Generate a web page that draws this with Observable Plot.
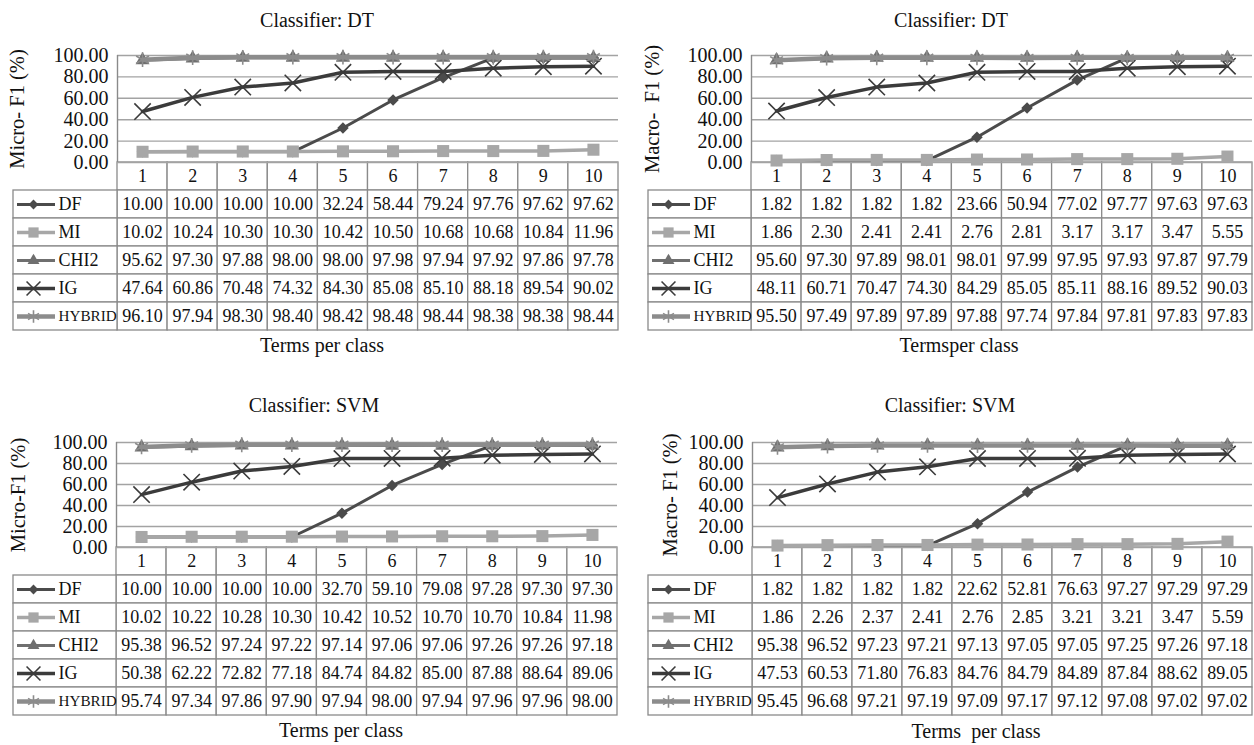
<!DOCTYPE html>
<html>
<head>
<meta charset="utf-8">
<script src="https://cdn.jsdelivr.net/npm/d3@7"></script>
<script src="https://cdn.jsdelivr.net/npm/@observablehq/plot@0.6"></script>
<style>
  html, body { margin: 0; padding: 0; background: #fff; }
  #root { position: relative; width: 1254px; height: 745px; background: #fff; font-family: "Liberation Serif", "Times New Roman", serif; color: #111; overflow: hidden; }
  .lbl { position: absolute; width: 400px; text-align: center; font-size: 20px; line-height: 24px; white-space: pre; }
</style>
</head>
<body>
<div id="root"></div>
<script>
// ---------- data ----------
const terms = [1, 2, 3, 4, 5, 6, 7, 8, 9, 10];
const seriesNames = ["DF", "MI", "CHI2", "IG", "HYBRID"];
const yTicks = [0, 20, 40, 60, 80, 100];

// Classifier DT, Micro-F1
const dtMicroDF     = [10.00, 10.00, 10.00, 10.00, 32.24, 58.44, 79.24, 97.76, 97.62, 97.62];
const dtMicroMI     = [10.02, 10.24, 10.30, 10.30, 10.42, 10.50, 10.68, 10.68, 10.84, 11.96];
const dtMicroCHI2   = [95.62, 97.30, 97.88, 98.00, 98.00, 97.98, 97.94, 97.92, 97.86, 97.78];
const dtMicroIG     = [47.64, 60.86, 70.48, 74.32, 84.30, 85.08, 85.10, 88.18, 89.54, 90.02];
const dtMicroHYBRID = [96.10, 97.94, 98.30, 98.40, 98.42, 98.48, 98.44, 98.38, 98.38, 98.44];

// Classifier DT, Macro-F1
const dtMacroDF     = [1.82, 1.82, 1.82, 1.82, 23.66, 50.94, 77.02, 97.77, 97.63, 97.63];
const dtMacroMI     = [1.86, 2.30, 2.41, 2.41, 2.76, 2.81, 3.17, 3.17, 3.47, 5.55];
const dtMacroCHI2   = [95.60, 97.30, 97.89, 98.01, 98.01, 97.99, 97.95, 97.93, 97.87, 97.79];
const dtMacroIG     = [48.11, 60.71, 70.47, 74.30, 84.29, 85.05, 85.11, 88.16, 89.52, 90.03];
const dtMacroHYBRID = [95.50, 97.49, 97.89, 97.89, 97.88, 97.74, 97.84, 97.81, 97.83, 97.83];

// Classifier SVM, Micro-F1
const svmMicroDF     = [10.00, 10.00, 10.00, 10.00, 32.70, 59.10, 79.08, 97.28, 97.30, 97.30];
const svmMicroMI     = [10.02, 10.22, 10.28, 10.30, 10.42, 10.52, 10.70, 10.70, 10.84, 11.98];
const svmMicroCHI2   = [95.38, 96.52, 97.24, 97.22, 97.14, 97.06, 97.06, 97.26, 97.26, 97.18];
const svmMicroIG     = [50.38, 62.22, 72.82, 77.18, 84.74, 84.82, 85.00, 87.88, 88.64, 89.06];
const svmMicroHYBRID = [95.74, 97.34, 97.86, 97.90, 97.94, 98.00, 97.94, 97.96, 97.96, 98.00];

// Classifier SVM, Macro-F1
const svmMacroDF     = [1.82, 1.82, 1.82, 1.82, 22.62, 52.81, 76.63, 97.27, 97.29, 97.29];
const svmMacroMI     = [1.86, 2.26, 2.37, 2.41, 2.76, 2.85, 3.21, 3.21, 3.47, 5.59];
const svmMacroCHI2   = [95.38, 96.52, 97.23, 97.21, 97.13, 97.05, 97.05, 97.25, 97.26, 97.18];
const svmMacroIG     = [47.53, 60.53, 71.80, 76.83, 84.76, 84.79, 84.89, 87.84, 88.62, 89.05];
const svmMacroHYBRID = [95.45, 96.68, 97.21, 97.19, 97.09, 97.17, 97.12, 97.08, 97.02, 97.02];

// ---------- styles ----------
const seriesStyle = {
  DF:     {color: "#4b4b4b", width: 3,   symbol: "diamond2", r: 5.2, filled: true},
  MI:     {color: "#a7a7a7", width: 3.5, symbol: "square",   r: 6.8, filled: true},
  CHI2:   {color: "#6f6f6f", width: 3,   symbol: "triangle", r: 5.2, filled: true},
  IG:     {color: "#3b3b3b", width: 3.5, symbol: "times",    r: 7.5, filled: false, sw: 1.6},
  HYBRID: {color: "#8c8c8c", width: 4.5, symbol: "asterisk", r: 7,   filled: false, sw: 1.6}
};
const gridColor = "#a3a3a3";
const borderColor = "#8a8a8a";
const textColor = "#111";

const panels = [
  {title: "Classifier: DT", ylab: "Micro- F1 (%)", xlab: "Terms per class",
   values: {DF: dtMicroDF, MI: dtMicroMI, CHI2: dtMicroCHI2, IG: dtMicroIG, HYBRID: dtMicroHYBRID},
   left: 0, plotLeft: 117, plotRight: 618, tableLeft: 13, y100: 55, y0: 162, bottom: 330,
   titleX: 317, titleY: 20, xlabX: 322, xlabY: 345, ylabDx: -100},
  {title: "Classifier: DT", ylab: "Macro-\u00a0 F1 (%)", xlab: "Termsper class",
   values: {DF: dtMacroDF, MI: dtMacroMI, CHI2: dtMacroCHI2, IG: dtMacroIG, HYBRID: dtMacroHYBRID},
   left: 627, plotLeft: 751, plotRight: 1252, tableLeft: 648, y100: 55, y0: 162, bottom: 330,
   titleX: 951, titleY: 20, xlabX: 959, xlabY: 345, ylabDx: -99},
  {title: "Classifier: SVM", ylab: "Micro-F1 (%)", xlab: "Terms per class",
   values: {DF: svmMicroDF, MI: svmMicroMI, CHI2: svmMicroCHI2, IG: svmMicroIG, HYBRID: svmMicroHYBRID},
   left: 0, plotLeft: 116, plotRight: 617, tableLeft: 13, y100: 442, y0: 547, bottom: 715,
   titleX: 314, titleY: 405, xlabX: 341, xlabY: 730, ylabDx: -98},
  {title: "Classifier:\u00a0SVM", ylab: "Macro- F1 (%)", xlab: "Terms\u00a0 per class",
   values: {DF: svmMacroDF, MI: svmMacroMI, CHI2: svmMacroCHI2, IG: svmMacroIG, HYBRID: svmMacroHYBRID},
   left: 627, plotLeft: 752, plotRight: 1252, tableLeft: 648, y100: 442, y0: 547, bottom: 715,
   titleX: 950, titleY: 405, xlabX: 976, xlabY: 731, ylabDx: -82}
];

const root = document.getElementById("root");
const baseStyle = {fontFamily: "'Liberation Serif', 'Times New Roman', serif", fontSize: "20px", color: textColor, background: "transparent", overflow: "visible"};

function addLabel(text, cx, cy) {
  const d = document.createElement("div");
  d.className = "lbl";
  d.textContent = text;
  d.style.left = (cx - 200) + "px";
  d.style.top = (cy - 12) + "px";
  root.appendChild(d);
}

function place(el, left, top) {
  el.style.position = "absolute";
  el.style.left = left + "px";
  el.style.top = top + "px";
  root.appendChild(el);
}

function markerOpts(st) {
  return st.filled
    ? {symbol: st.symbol, r: st.r, fill: st.color, stroke: "none"}
    : {symbol: st.symbol, r: st.r, fill: "none", stroke: st.color, strokeWidth: st.sw};
}

function build(p) {
  const W = 627;
  const mL = p.plotLeft - p.left;
  const mR = p.left + W - p.plotRight;
  const xDomain = [d3.min(terms) - 0.5, d3.max(terms) + 0.5];
  const rows = [];
  seriesNames.forEach(s => p.values[s].forEach((v, i) => rows.push({s, k: terms[i], v})));

  // ----- table -----
  const cellRows = ["header", ...seriesNames];
  const cells = [];
  cellRows.forEach(r => terms.forEach(k => cells.push({r, k})));
  const legW = p.plotLeft - p.tableLeft;
  const tMarks = [
    Plot.barX(cells, {x1: d => d.k - 0.5, x2: d => d.k + 0.5, y: "r", fill: "white", stroke: borderColor, strokeWidth: 1.3}),
    Plot.barX(seriesNames, {x1: () => xDomain[0], x2: () => xDomain[0], y: d => d, insetLeft: -legW, fill: "white", stroke: borderColor, strokeWidth: 1.3}),
    Plot.text(terms, {x: d => d, y: () => "header", text: d => String(d), fontSize: 18, fill: textColor}),
    Plot.text(rows, {x: "k", y: "s", text: d => d.v.toFixed(2), fontSize: 18, fill: textColor})
  ];
  seriesNames.forEach(s => {
    const st = seriesStyle[s];
    tMarks.push(Plot.ruleY([s], {y: d => d, x1: () => xDomain[0], x2: () => xDomain[0], insetLeft: -(legW - 4), insetRight: legW - 42, stroke: st.color, strokeWidth: st.width}));
    tMarks.push(Plot.dot([s], {y: d => d, frameAnchor: "left", dx: -legW + 20, ...markerOpts(st), r: st.r * 0.85}));
    tMarks.push(Plot.text([s], {y: d => d, text: d => d, frameAnchor: "left", dx: -legW + 45, textAnchor: "start", fontSize: s === "HYBRID" ? 15.2 : 18, fill: textColor}));
  });
  const table = Plot.plot({
    width: W, height: (p.bottom - p.y0) + 2,
    marginLeft: mL, marginRight: mR, marginTop: 1, marginBottom: 1,
    x: {domain: xDomain, axis: null},
    y: {type: "band", domain: cellRows, padding: 0, axis: null},
    style: baseStyle,
    marks: tMarks
  });
  place(table, p.left, p.y0 - 1);

  // ----- chart -----
  const cMarks = [
    Plot.ruleY(yTicks, {stroke: gridColor, strokeWidth: 1.4}),
    Plot.ruleX(xDomain.slice(0, 1), {stroke: borderColor, strokeWidth: 1.4})
  ];
  seriesNames.forEach(s => {
    const st = seriesStyle[s];
    const data = rows.filter(r => r.s === s);
    cMarks.push(Plot.line(data, {x: "k", y: "v", stroke: st.color, strokeWidth: st.width}));
    cMarks.push(Plot.dot(data, {x: "k", y: "v", ...markerOpts(st)}));
  });
  cMarks.push(Plot.text([p.ylab], {text: d => d, frameAnchor: "left", dx: p.ylabDx, rotate: -90, textAnchor: "middle", fontSize: 20.5, fill: textColor}));
  const chart = Plot.plot({
    width: W, height: 50 + (p.y0 - p.y100) + 12,
    marginLeft: mL, marginRight: mR, marginTop: 50, marginBottom: 12,
    x: {domain: xDomain, axis: null},
    y: {domain: [0, 100], ticks: yTicks, tickFormat: d => d.toFixed(2), tickSize: 0, tickPadding: 9, label: null},
    style: baseStyle,
    marks: cMarks
  });
  place(chart, p.left, p.y100 - 50);

  addLabel(p.title, p.titleX, p.titleY);
  addLabel(p.xlab, p.xlabX, p.xlabY);
}

panels.forEach(build);
</script>
</body>
</html>
